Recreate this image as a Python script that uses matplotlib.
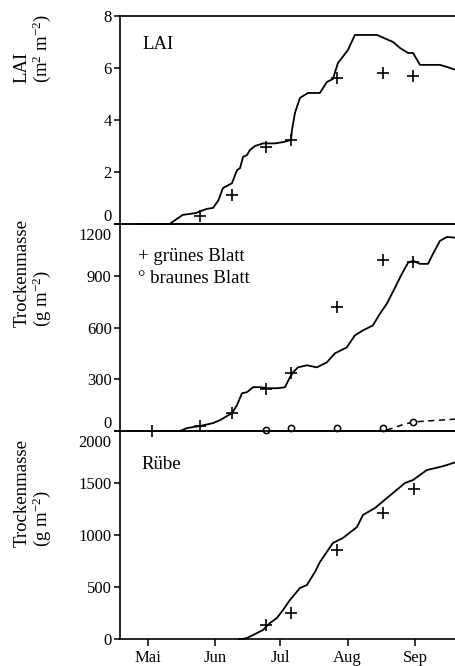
import matplotlib
matplotlib.use("Agg")
import matplotlib.pyplot as plt
import matplotlib.transforms as mtransforms

plt.rcParams['font.family'] = ['Liberation Serif', 'DejaVu Serif']
plt.rcParams['mathtext.fontset'] = 'custom'
plt.rcParams['mathtext.rm'] = 'Liberation Serif'
plt.rcParams['mathtext.it'] = 'Liberation Serif:italic'
plt.rcParams['font.size'] = 12

# day of year
month_days = [121, 152, 182, 213, 244]
month_names = ['Mai', 'Jun', 'Jul', 'Aug', 'Sep']

# LAI
lai_day = [118, 131, 133, 137, 143, 148, 151, 153.5, 155.5, 159.7, 162, 163.4, 164.8, 166.6,
           168, 170.3, 174, 179.5, 183.2, 186.9, 187.3, 188.7, 191, 194.7, 200.2, 203.4,
           206.2, 208.5, 213.1, 216.3, 226.5, 233.9, 237.1, 240.8, 243.1, 246.3, 255.5,
           258.7, 263]
lai_val = [0, 0, 0.12, 0.35, 0.42, 0.58, 0.62, 0.92, 1.38, 1.57, 2.07, 2.15, 2.58, 2.65,
           2.85, 3.0, 3.1, 3.1, 3.15, 3.23, 3.6, 4.27, 4.85, 5.04, 5.04, 5.46,
           5.58, 6.19, 6.69, 7.27, 7.27, 7.0, 6.77, 6.58, 6.58, 6.12, 6.12,
           6.04, 5.92]
lai_obs_day = [145, 159.7, 175.4, 186.9, 208, 229.2, 243.1]
lai_obs = [0.3, 1.1, 2.96, 3.23, 5.6, 5.8, 5.7]

# Blatt-Trockenmasse
gb_day = [122, 135.7, 139, 145, 151, 154.2, 159.7, 162, 164.3, 166.6, 169.4, 172.6, 175.8,
          180.9, 184.1, 186.4, 187.8, 190.1, 194.2, 198.8, 203.4, 207.1, 212.6, 216.3,
          220, 224.6, 227.9, 231.1, 234.8, 238, 240.8, 243.1, 246.3, 250, 252.3, 255.5,
          258.7, 263]
gb_val = [0, 0, 17, 29, 46, 63, 104, 150, 219, 225, 254, 254, 248,
          248, 254, 312, 340, 369, 381, 369, 398, 450, 485, 554,
          583, 612, 681, 739, 831, 912, 975, 987, 969, 969, 1027, 1102,
          1125, 1120]
gb_obs_day = [122.8, 145, 159.7, 175.4, 186.9, 208, 229.2, 243.1]
gb_obs = [0, 29, 104, 242, 335, 721, 992, 981]

bb_day = [231, 238, 243.1, 249.5, 263]
bb_val = [5, 35, 52, 58, 69]
bb_obs_day = [175.4, 186.9, 208, 229.2, 243.1]
bb_obs = [3, 17, 17, 20, 50]

# Ruebe
rb_day = [163, 164.8, 166.6, 169.4, 174, 177.2, 180.4, 183.2, 186.4, 191, 194.2, 197.9,
          200.2, 206.2, 210.8, 217.3, 220, 225.6, 231.1, 239.4, 243.1, 249.5, 255.5,
          258.7, 263]
rb_val = [0, 0, 10, 38, 87, 154, 202, 279, 375, 490, 519, 644,
          740, 923, 971, 1077, 1192, 1260, 1356, 1500, 1529, 1625, 1654,
          1673, 1702]
rb_obs_day = [175.4, 186.9, 208, 229.2, 243.5]
rb_obs = [135, 250, 856, 1212, 1442]

W, H = 456, 666
fig = plt.figure(figsize=(W / 100, H / 100), dpi=100)

def make_ax(top_px, bot_px):
    return fig.add_axes([120 / W, 1 - bot_px / H, 1 - 120 / W, (bot_px - top_px) / H])

ax1 = make_ax(16, 224)
ax2 = make_ax(224, 431)
ax3 = make_ax(431, 639)

lw = 1.3
mk = dict(ls='none', marker='+', ms=9, mew=1.2, color='k', clip_on=False, zorder=5)
ck = dict(ls='none', marker='o', ms=4.5, mew=1.1, mfc='white', mec='k', clip_on=False, zorder=5)

ax1.plot(lai_day, lai_val, 'k-', lw=lw, clip_on=False)
ax1.plot(lai_obs_day, lai_obs, **mk)
ax1.set_ylim(0, 8)
ax1.set_yticks([0, 2, 4, 6, 8])

ax2.plot(gb_day, gb_val, 'k-', lw=lw, clip_on=False)
ax2.plot(bb_day, bb_val, 'k--', lw=1.1, dashes=(4, 3), clip_on=False)
ax2.plot(gb_obs_day, gb_obs, **mk)
ax2.plot(bb_obs_day, bb_obs, **ck)
ax2.set_ylim(0, 1200)
ax2.set_yticks([0, 300, 600, 900, 1200])

ax3.plot(rb_day, rb_val, 'k-', lw=lw, clip_on=False)
ax3.plot(rb_obs_day, rb_obs, **mk)
ax3.set_ylim(0, 2000)
ax3.set_yticks([0, 500, 1000, 1500, 2000])

for ax in (ax1, ax2, ax3):
    ax.set_xlim(108.1, 262.9)
    ax.spines['right'].set_visible(False)
    for s in ('left', 'top', 'bottom'):
        ax.spines[s].set_linewidth(1.2)
    ax.tick_params(axis='y', direction='out', length=4, width=1.1, pad=2, labelsize=12)
    ax.set_facecolor('none')

for ax in (ax1, ax2):
    ax.set_xticks([])

ax3.set_xticks(month_days)
ax3.set_xticklabels(month_names)
ax3.tick_params(axis='x', direction='out', length=5, width=1.1, pad=3, labelsize=12)

# shift end tick labels so they do not collide
def shift(label, dy_px):
    off = mtransforms.ScaledTranslation(0, dy_px / 100, fig.dpi_scale_trans)
    label.set_transform(label.get_transform() + off)

shift(ax1.get_yticklabels()[0], 9)
shift(ax2.get_yticklabels()[0], 9)
shift(ax2.get_yticklabels()[-1], -10)
shift(ax3.get_yticklabels()[-1], -10)

# y labels
lab = dict(rotation=90, ha='center', va='bottom', multialignment='left', fontsize=13.5,
           linespacing=1.0)
ax1.text(-0.259, 0.678, 'LAI\n(m$^2$ m$^{-2}$)', transform=ax1.transAxes, **lab)
ax2.text(-0.259, 0.502, 'Trockenmasse\n(g m$^{-2}$)', transform=ax2.transAxes, **lab)
ax3.text(-0.259, 0.442, 'Trockenmasse\n(g m$^{-2}$)', transform=ax3.transAxes, **lab)

# panel texts
ax1.text(0.068, 0.861, 'LAI', transform=ax1.transAxes, ha='left', va='center', fontsize=13.5)
ax2.text(0.054, 0.845, '+ grünes Blatt', transform=ax2.transAxes, ha='left', va='center', fontsize=13.5)
ax2.text(0.054, 0.739, '° braunes Blatt', transform=ax2.transAxes, ha='left', va='center', fontsize=13.5)
ax3.text(0.065, 0.837, 'Rübe', transform=ax3.transAxes, ha='left', va='center', fontsize=13.5)

fig.savefig('out.png', dpi=100)
